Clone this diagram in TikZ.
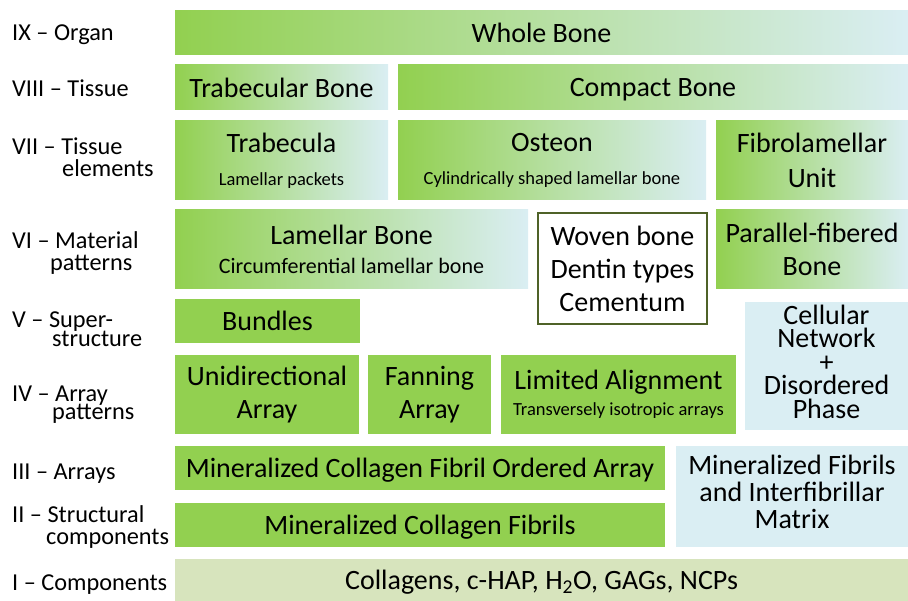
\documentclass[tikz,border=0pt]{standalone}
\usepackage{fontspec}
\setmainfont{Carlito}
\definecolor{leafgreen}{HTML}{92D050}
\definecolor{paleblue}{HTML}{DAEEF3}
\definecolor{paleolive}{HTML}{D7E4BD}
\definecolor{frameline}{HTML}{4F6228}
\newcommand{\notefont}{\fontsize{18.5}{20}\selectfont}
\newcommand{\midfont}{\fontsize{22}{24}\selectfont}
\begin{document}
\begin{tikzpicture}[x=1pt, y=-1pt,
    lvl/.style={anchor=base west, inner sep=0pt, font=\fontsize{24.3}{26}\selectfont},
    blk/.style={anchor=north west, inner sep=0pt, outer sep=0pt, align=center,
        font=\fontsize{28}{33}\selectfont},
    flat/.style={text depth=0pt},
    fadebox/.style={blk, left color=leafgreen, right color=paleblue},
    greenbox/.style={blk, fill=leafgreen},
    bluebox/.style={blk, fill=paleblue},
    olivebox/.style={blk, fill=paleolive},
    whitebox/.style={blk, fill=white, draw=frameline, line width=1.2pt}]
    \useasboundingbox (0,0) rectangle (908,601);
    % level names
    \node[lvl] (lvl9) at (12,41) {IX – Organ};
    \node[lvl] (lvl8) at (12,97) {VIII – Tissue};
    \node[lvl] (lvl7) at (12,155) {VII – Tissue};
    \node[lvl] (lvl7b) at (62,177) {elements};
    \node[lvl] (lvl6) at (12,249) {VI – Material};
    \node[lvl] (lvl6b) at (50,271) {patterns};
    \node[lvl] (lvl5) at (12,328) {V – Super-};
    \node[lvl] (lvl5b) at (52,347) {structure};
    \node[lvl] (lvl4) at (12,402) {IV – Array};
    \node[lvl] (lvl4b) at (52,420) {patterns};
    \node[lvl] (lvl3) at (12,479) {III – Arrays};
    \node[lvl] (lvl2) at (12,522) {II – Structural};
    \node[lvl] (lvl2b) at (46,544) {components};
    \node[lvl] (lvl1) at (12,590) {I – Components};
    % IX, VIII
    \node[fadebox, flat, minimum width=733, minimum height=44] (whole) at (175,11) {Whole Bone};
    \node[fadebox, flat, minimum width=213, minimum height=45] (trabbone) at (175,65) {Trabecular Bone};
    \node[fadebox, flat, minimum width=510, minimum height=45] (compact) at (398,65) {Compact Bone};
    % VII
    \node[fadebox, minimum width=213, minimum height=79] (trabecula) at (175,121)
        {Trabecula\\{\notefont Lamellar packets}};
    \node[fadebox, minimum width=308, minimum height=79] (osteon) at (398,121)
        {Osteon\\{\notefont Cylindrically shaped lamellar bone}};
    \node[fadebox, minimum width=192, minimum height=79] (fibrolam) at (716,121)
        {Fibrolamellar\\[2pt]Unit};
    % VI
    \node[fadebox, minimum width=353, minimum height=79] (lamellar) at (175,210)
        {Lamellar Bone\\[-4pt]{\midfont Circumferential lamellar bone}};
    \node[whitebox, minimum width=169, minimum height=111] (woven) at (538,213)
        {Woven bone\\Dentin types\\Cementum};
    \node[fadebox, minimum width=192, minimum height=79] (parallel) at (716,210)
        {Parallel-fibered\\Bone};
    % V
    \node[greenbox, flat, minimum width=185, minimum height=44] (bundles) at (175,299) {Bundles};
    \node[bluebox, minimum width=163, minimum height=128, text depth=9pt,
        font=\fontsize{28}{23.5}\selectfont]
        (cellular) at (745,302) {Cellular\\Network\\+\\Disordered\\Phase};
    % IV
    \node[greenbox, minimum width=184, minimum height=79] (unidir) at (175,355)
        {Unidirectional\\Array};
    \node[greenbox, minimum width=123, minimum height=79] (fanning) at (368,355)
        {Fanning\\Array};
    \node[greenbox, minimum width=235, minimum height=79, text depth=4pt] (limited) at (501,355)
        {Limited Alignment\\[-7pt]{\notefont Transversely isotropic arrays}};
    % III, II
    \node[greenbox, flat, minimum width=490, minimum height=44] (ordered) at (175,446)
        {Mineralized Collagen Fibril Ordered Array};
    \node[bluebox, minimum width=232, minimum height=101, text depth=10pt,
        font=\fontsize{28}{27}\selectfont]
        (interfib) at (676,446) {Mineralized Fibrils\\and Interfibrillar\\Matrix};
    \node[greenbox, flat, minimum width=490, minimum height=44] (fibrils) at (175,503)
        {Mineralized Collagen Fibrils};
    % I
    \node[olivebox, flat, minimum width=733, minimum height=42] (components) at (175,559)
        {Collagens, c-HAP, H\textsubscript{2}O, GAGs, NCPs};
\end{tikzpicture}
\end{document}
